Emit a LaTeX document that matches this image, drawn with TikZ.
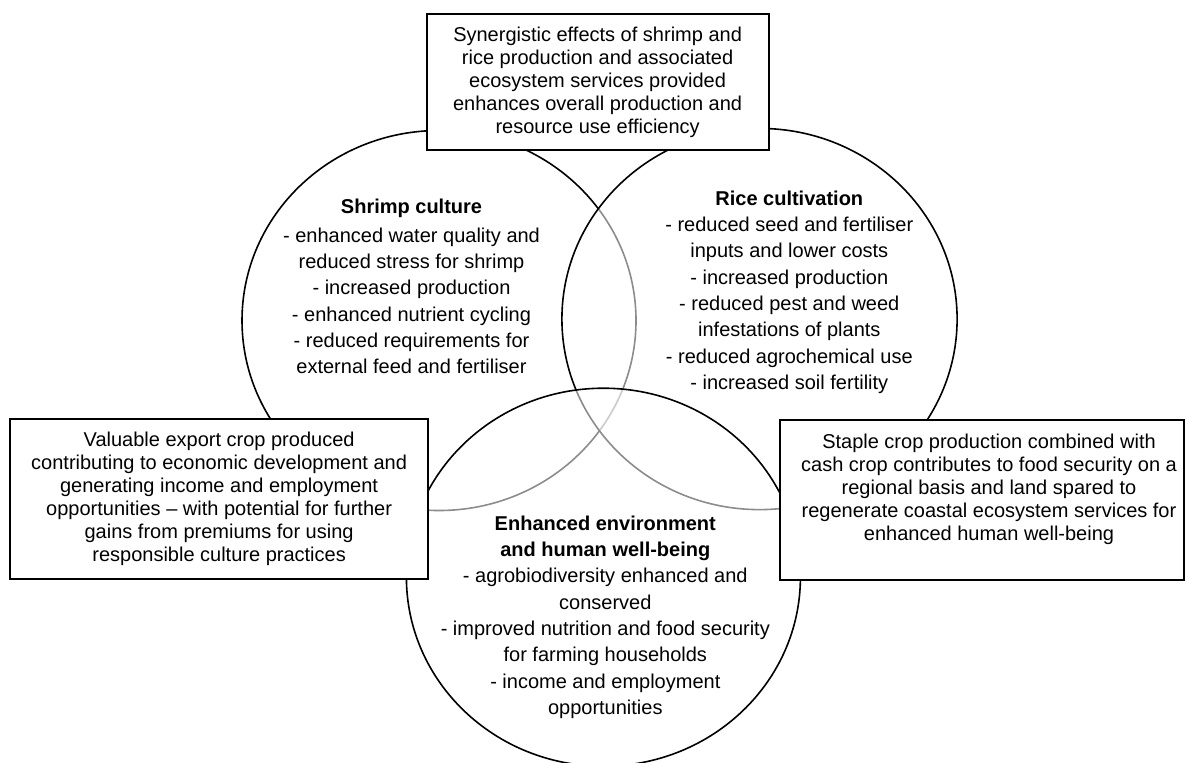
\documentclass[tikz,border=0pt]{standalone}
\usepackage{fontspec}
\setmainfont{Liberation Sans}
\begin{document}
\begin{tikzpicture}[x=0.5pt,y=-0.5pt,
  venn/.style={draw=black, line width=0.8pt},
  vennover/.style={venn, fill=white, fill opacity=0.55},
  infobox/.style={draw=black, line width=1pt, fill=white, align=center, inner sep=0pt, font=\fontsize{10}{11.5}\selectfont},
  boxtext/.style={align=center, inner sep=0pt, font=\fontsize{10}{11.5}\selectfont},
  circtext/.style={align=center, inner sep=0pt, font=\fontsize{10}{13.15}\selectfont}]
\useasboundingbox (0,0) rectangle (1186,762);
\clip (0,0) rectangle (1186,762);
% shrimp circle
\draw[venn] (439,320.5) ellipse [x radius=98.5pt, y radius=95pt];
\node[circtext] (shrimptxt) at (411.5,286.7) {\textbf{Shrimp culture}\\[1pt]
- enhanced water quality and\\ reduced stress for shrimp\\ - increased production\\
- enhanced nutrient cycling\\ - reduced requirements for\\ external feed and fertiliser};
% rice circle
\draw[vennover] (759.5,319) ellipse [x radius=98.8pt, y radius=95.3pt];
\node[circtext] (ricetxt) at (789.3,292.2) {\textbf{Rice cultivation}\\
- reduced seed and fertiliser\\ inputs and lower costs\\ - increased production\\
- reduced pest and weed\\ infestations of plants\\ - reduced agrochemical use\\
- increased soil fertility};
% environment circle
\draw[vennover] (603.4,577.2) ellipse [x radius=98.5pt, y radius=94.5pt];
\node[circtext] (envtxt) at (605.3,617.2) {\textbf{Enhanced environment}\\
\textbf{and human well-being}\\ - agrobiodiversity enhanced and\\ conserved\\
- improved nutrition and food security\\ for farming households\\
- income and employment\\ opportunities};
% boxes
\node[infobox, minimum width=170.9pt, minimum height=67.85pt] (topbox) at (597.6,82.2)
 {Synergistic effects of shrimp and\\ rice production and associated\\
 ecosystem services provided\\ enhances overall production and\\ resource use efficiency};
\node[infobox, minimum width=208.8pt, minimum height=80pt] (leftbox) at (219.1,498.7)
 {Valuable export crop produced\\ contributing to economic development and\\
 generating income and employment\\ opportunities – with potential for further\\
 gains from premiums for using\\ responsible culture practices};
\node[infobox, minimum width=201.8pt, minimum height=80pt] (rightbox) at (982.2,500.3) {};
\node[boxtext] (righttxt) at (989,489.5)
 {Staple crop production combined with\\ cash crop contributes to food security on a\\
 regional basis and land spared to\\ regenerate coastal ecosystem services for\\
 enhanced human well-being};
\end{tikzpicture}
\end{document}
